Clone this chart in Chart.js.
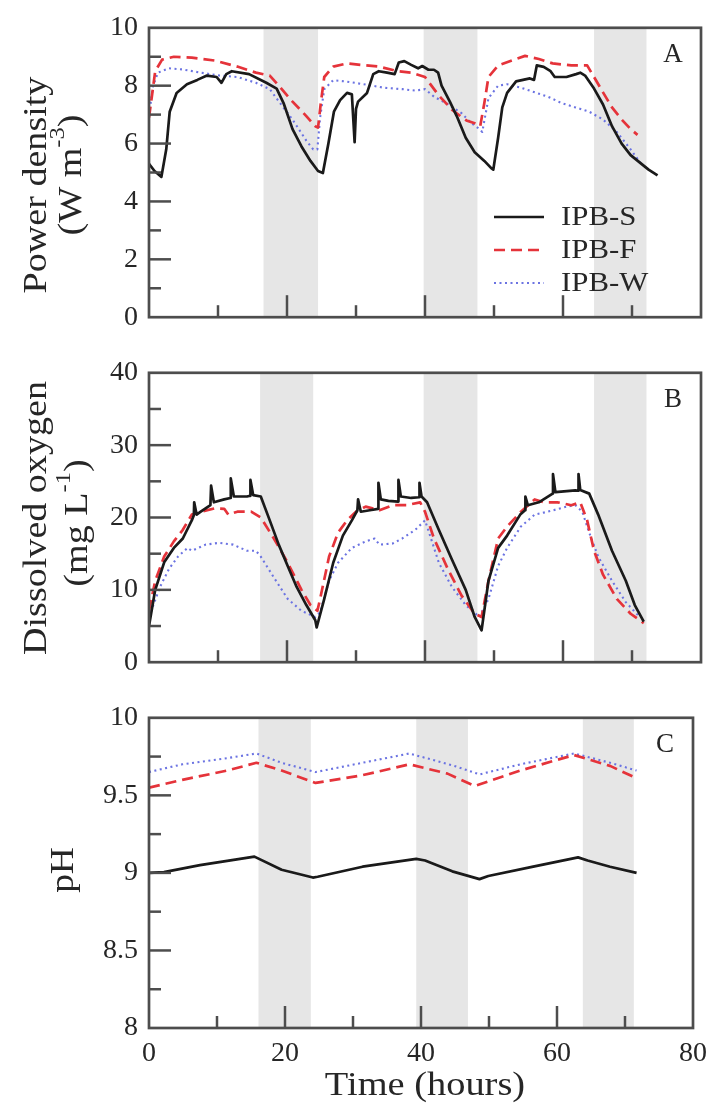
<!DOCTYPE html>
<html><head><meta charset="utf-8">
<script src="https://cdn.jsdelivr.net/npm/chart.js@4.4.1/dist/chart.umd.min.js"></script>
<style>
html,body{margin:0;padding:0;background:#fff;}
#wrap{position:relative;width:716px;height:1105px;}
canvas{position:absolute;left:0;}
</style></head><body>
<div id="wrap">
<canvas id="cA" width="716" height="345" style="top:0px"></canvas>
<canvas id="cB" width="716" height="345" style="top:345px"></canvas>
<canvas id="cC" width="716" height="415" style="top:690px"></canvas>
</div>
<script>
// ---------- DATA (time in hours, value) ----------
const seriesNames = ['IPB-S', 'IPB-F', 'IPB-W'];

const powerS = [[0,5.3],[0.8,5.05],[1.8,4.85],[2.5,5.8],[3.0,7.1],[4.0,7.75],[5.5,8.05],[7.0,8.2],[8.4,8.35],[9.8,8.3],[10.5,8.1],[11.2,8.4],[12,8.5],[14.5,8.4],[17,8.1],[18.5,7.9],[19.5,7.4],[20.8,6.5],[22.1,5.9],[23.4,5.4],[24.5,5.05],[25.2,4.98],[26,6.0],[26.8,7.1],[27.7,7.5],[28.7,7.75],[29.4,7.7],[29.8,6.05],[30.0,7.2],[30.3,7.45],[31.6,7.75],[32.5,8.4],[33.3,8.5],[34.5,8.45],[35.6,8.4],[36.2,8.8],[37,8.85],[38,8.72],[39,8.6],[39.6,8.68],[40.5,8.55],[41.3,8.55],[41.9,8.45],[42.4,8.0],[43.6,7.45],[44.6,6.95],[45.9,6.2],[47.2,5.7],[48.6,5.4],[49.6,5.15],[49.9,5.1],[50.6,6.2],[51.2,7.25],[51.9,7.75],[53.2,8.15],[55.2,8.25],[55.8,8.2],[56.2,8.7],[57.2,8.65],[58.2,8.5],[58.8,8.3],[60.5,8.3],[61.9,8.4],[62.5,8.45],[63.2,8.35],[64.5,7.9],[65.8,7.35],[67.1,6.6],[68.5,6.0],[69.8,5.6],[71.1,5.35],[72.4,5.1],[73.7,4.9]];
const powerF = [[0,6.9],[0.4,7.6],[0.9,8.5],[1.9,8.9],[3.6,9.0],[6.2,8.97],[9.5,8.87],[12.8,8.66],[15.5,8.45],[17.5,8.35],[18.8,8.0],[20.8,7.45],[22.8,6.95],[24.1,6.6],[24.5,6.55],[24.9,7.4],[25.4,8.3],[26.7,8.66],[28.7,8.77],[30.7,8.72],[33.3,8.66],[36,8.5],[38,8.45],[40,8.3],[42,7.66],[44,7.15],[46,6.8],[47.2,6.7],[48,6.6],[48.6,7.4],[49.2,8.3],[50.6,8.7],[52.6,8.87],[54.5,9.03],[56.5,8.92],[58.5,8.77],[61.2,8.7],[63.5,8.7],[64.5,8.3],[65.8,7.77],[67.1,7.25],[68.5,6.83],[69.8,6.5],[70.8,6.3]];
const powerW = [[0,7.0],[0.6,8.0],[1.3,8.45],[2.9,8.6],[4.9,8.56],[7.5,8.45],[10.2,8.35],[12.8,8.3],[15.5,8.1],[17.5,7.88],[18.8,7.46],[20.8,6.83],[22.8,6.1],[23.8,5.8],[24.4,5.8],[24.8,6.9],[25.4,7.88],[26.7,8.19],[28.7,8.14],[31.4,8.04],[34,7.93],[36.7,7.88],[38.6,7.83],[40,7.88],[41.3,7.62],[43.3,7.36],[45.3,7.05],[46.6,6.73],[47.9,6.5],[48.3,6.4],[49.2,7.57],[50.6,8.0],[51.9,8.05],[53.9,7.93],[55.9,7.77],[57.8,7.62],[59.8,7.4],[61.8,7.25],[63.8,7.1],[65.8,6.83],[67.8,6.4],[69.8,5.8],[71.4,5.27]];

const oxyS = [[0,5],[0.9,10],[2.2,13.8],[3.6,15.8],[4.9,17.1],[6.2,19.6],[6.5,20.3],[6.55,22.1],[6.9,20.4],[7.5,20.8],[8.9,21.7],[9.0,24.4],[9.4,22.1],[10.9,22.5],[11.8,22.7],[11.85,25.4],[12.3,22.9],[14.2,22.9],[14.65,23],[14.7,25.2],[15.1,23.1],[16.2,22.9],[17.5,19.6],[18.8,16.25],[20.1,13.3],[21.4,10.4],[22.8,7.9],[24.1,5.8],[24.3,4.8],[25.4,8.75],[26.7,13.75],[28.1,17.5],[29.4,19.6],[30.2,21.0],[30.3,22.5],[30.7,20.8],[32,21.0],[33.2,21.2],[33.25,24.8],[33.6,22.5],[34.7,22.3],[36.1,22.2],[36.15,25.2],[36.5,22.9],[38,22.7],[39.15,22.8],[39.2,24.8],[39.5,22.9],[40.3,22.1],[42,18.3],[43.9,14.2],[45.9,10],[47.2,6.25],[48.2,4.4],[49.2,11.25],[50.6,15.8],[51.9,17.5],[53.8,20.4],[54.5,21.0],[54.55,22.9],[54.9,21.7],[56.5,22.1],[58.5,23.3],[58.55,26],[58.9,23.5],[61.8,23.75],[62.2,23.7],[62.25,26],[62.5,23.8],[63.8,23.3],[65.1,20.4],[67.1,15.4],[69.1,11.25],[70.4,7.9],[71.7,5.6]];
const oxyF = [[0,7.1],[0.9,11.25],[2.2,14.6],[3.6,16.7],[4.9,18.3],[6.2,20.4],[7.5,20.8],[9.5,21.25],[10.9,21.2],[11.5,20.4],[12.8,20.8],[14.8,20.8],[16.2,20],[18.1,17.1],[20.1,13.75],[22.1,10],[23.4,7.9],[24.4,7.1],[24.8,8.75],[26.1,14.6],[27.4,17.9],[28.7,19.6],[30,20.8],[31.4,21.5],[33.4,21],[35.3,21.7],[37.3,21.7],[39.3,22.1],[40,20.8],[41.3,17.1],[43.3,12.9],[45.3,9.2],[47.2,6.7],[48.2,6.25],[49.2,11.25],[50.6,17.1],[51.9,18.75],[53.9,20.8],[55.9,22.5],[57.2,22.1],[59.2,22.1],[61.2,21.7],[62.5,22.1],[63.5,19.6],[64.5,15.4],[65.8,12.1],[67.8,8.75],[69.8,6.7],[71.7,5.4]];
const oxyW = [[0,6.25],[1.6,10.4],[2.9,12.9],[4.2,14.6],[5.6,15.8],[6.2,15.4],[8.2,16.25],[10.2,16.5],[12.2,16.25],[14.2,15.4],[15.5,15.4],[16.2,14.6],[18.1,11.7],[20.1,8.75],[22.1,7.1],[24.1,6.25],[24.8,6.9],[26.1,11.25],[27.4,13.75],[29.4,15.8],[31.4,16.7],[32.7,17.1],[33.4,16.25],[35.3,16.4],[36.7,17.1],[38.6,18.3],[40,19.6],[40.6,17.9],[42,13.75],[43.9,10.4],[45.9,7.9],[47.9,6.25],[49.2,8.75],[50.6,13.3],[51.9,15.8],[53.9,18.75],[55.9,20.4],[57.8,20.8],[60.5,21.5],[61.8,21.7],[62.8,20.8],[63.8,17.9],[65.1,14.6],[67.1,11.25],[69.1,8.3],[71.1,6.25]];

const phS = [[0,9.0],[2.2,9.005],[7.5,9.05],[14.8,9.1],[15.5,9.105],[19.5,9.02],[24.1,8.97],[24.8,8.975],[31.4,9.04],[39.3,9.09],[40.6,9.08],[44.6,9.01],[48.6,8.96],[49.9,8.98],[56.5,9.04],[63.1,9.1],[64.5,9.08],[67.8,9.04],[71.7,9.0]];
const phF = [[0,9.55],[4.9,9.6],[11.5,9.66],[15.8,9.71],[19.5,9.66],[24.5,9.58],[31.4,9.63],[38.3,9.70],[43.9,9.64],[47.9,9.56],[54.6,9.66],[62.5,9.76],[67.8,9.69],[71.7,9.61]];
const phW = [[0,9.65],[4.9,9.7],[11.5,9.74],[15.8,9.77],[19.5,9.71],[24.5,9.65],[31.4,9.71],[38.3,9.77],[44.9,9.69],[48.6,9.635],[54.6,9.7],[62.5,9.77],[67.8,9.71],[71.7,9.66]];

// dark periods (hours)
const darkA = [[16.6,24.5],[39.8,47.6],[64.5,72.1]];
const darkB = [[16.1,23.8],[39.8,47.6],[64.5,72.1]];
const darkC = [[16.1,23.8],[39.3,46.9],[63.8,71.3]];

// tick labels
const xTicks = [0, 20, 40, 60, 80];
const xMinor = [10, 30, 50, 70];
const yTicksA = [0, 2, 4, 6, 8, 10];
const yMinorA = [1, 3, 5, 7, 9];
const yTicksB = [0, 10, 20, 30, 40];
const yMinorB = [5, 15, 25, 35];
const yTicksC = [8, 8.5, 9, 9.5, 10];
const yMinorC = [8.25, 8.75, 9.25, 9.75];

// ---------- STYLE ----------
const SERIF = "'Liberation Serif','Times New Roman',serif";
const TXT = '#262626';
const COL_S = '#1a1a1a', COL_F = '#e5333a', COL_W = '#6b73e2';
const FRAME = '#4d4d4d';

function pts(a){ return a.map(p => ({x:p[0], y:p[1]})); }

function ds(label, arr, kind){
  const base = {label, data: pts(arr), pointRadius:0, tension:0, fill:false, borderJoinStyle:'round'};
  if(kind==='S') return Object.assign(base,{borderColor:COL_S,borderWidth:2.7});
  if(kind==='F') return Object.assign(base,{borderColor:COL_F,borderWidth:2.7,borderDash:[11,6]});
  return Object.assign(base,{borderColor:COL_W,borderWidth:2.1,borderDash:[2,3.5]});
}

// text drawn with a slight stretch along its length (sx)
function drawRich(ctx, cx, cy, parts, rotate, sx){
  ctx.save();
  ctx.translate(cx, cy);
  if(rotate) ctx.rotate(-Math.PI/2);
  ctx.scale(sx||1, 1);
  ctx.textBaseline='alphabetic';
  ctx.textAlign='left';
  let total=0;
  parts.forEach(p=>{ ctx.font = p.size+'px '+SERIF; p.w = ctx.measureText(p.text).width; total+=p.w; });
  let x=-total/2;
  const baseSize = parts[0].size;
  parts.forEach(p=>{
    ctx.font = p.size+'px '+SERIF;
    ctx.fillStyle=TXT;
    ctx.fillText(p.text, x, baseSize*0.34 - (p.raise||0));
    x+=p.w;
  });
  ctx.restore();
}

function makePanel(id, cfg){
  const deco = {
    id:'deco'+id,
    beforeDatasetsDraw(chart){
      const {ctx, chartArea:a, scales:{x}} = chart;
      ctx.save();
      ctx.fillStyle='#e6e6e6';
      cfg.dark.forEach(b=>{
        const x0=x.getPixelForValue(b[0]), x1=x.getPixelForValue(b[1]);
        ctx.fillRect(x0, a.top, x1-x0, a.bottom-a.top);
      });
      ctx.restore();
    },
    afterDatasetsDraw(chart){
      const {ctx, chartArea:a, scales:{x,y}} = chart;
      ctx.save();
      ctx.strokeStyle=FRAME; ctx.lineWidth=2.5; ctx.lineCap='butt';
      xTicks.forEach(v=>{ if(v<=0||v>=80) return; const px=x.getPixelForValue(v);
        ctx.beginPath(); ctx.moveTo(px,a.bottom); ctx.lineTo(px,a.bottom-22); ctx.stroke(); });
      xMinor.forEach(v=>{ const px=x.getPixelForValue(v);
        ctx.beginPath(); ctx.moveTo(px,a.bottom); ctx.lineTo(px,a.bottom-12); ctx.stroke(); });
      cfg.yTicks.forEach((v,i)=>{ if(i===0||i===cfg.yTicks.length-1) return; const py=y.getPixelForValue(v);
        ctx.beginPath(); ctx.moveTo(a.left,py); ctx.lineTo(a.left+22,py); ctx.stroke(); });
      cfg.yMinor.forEach(v=>{ const py=y.getPixelForValue(v);
        ctx.beginPath(); ctx.moveTo(a.left,py); ctx.lineTo(a.left+12,py); ctx.stroke(); });
      ctx.lineWidth=2.7;
      ctx.strokeRect(a.left, a.top, a.right-a.left, a.bottom-a.top);
      ctx.fillStyle=TXT;
      ctx.font='27px '+SERIF; ctx.textAlign='center'; ctx.textBaseline='middle';
      ctx.fillText(cfg.letter, a.right-28, a.top+27);
      ctx.restore();
    },
    afterDraw(chart){
      const ctx = chart.ctx;
      cfg.titles.forEach(t=>drawRich(ctx, t.x, t.y, t.parts, t.rotate, t.sx));
      if(cfg.legend){
        const items = chart.data.datasets;
        ctx.save();
        cfg.legend.forEach((L,i)=>{
          const d = items[i];
          ctx.strokeStyle=d.borderColor; ctx.lineWidth=d.borderWidth;
          ctx.setLineDash(d.borderDash||[]);
          ctx.beginPath(); ctx.moveTo(L.x0,L.y); ctx.lineTo(L.x1,L.y); ctx.stroke();
          ctx.setLineDash([]);
          ctx.save();
          ctx.translate(L.tx, L.y+1); ctx.scale(1.1,1);
          ctx.fillStyle=TXT; ctx.font='28px '+SERIF; ctx.textAlign='left'; ctx.textBaseline='middle';
          ctx.fillText(d.label, 0, 0);
          ctx.restore();
        });
        ctx.restore();
      }
    }
  };
  return new Chart(document.getElementById(id), {
    type:'line',
    data:{datasets:cfg.datasets},
    options:{
      responsive:false, animation:false, devicePixelRatio:1,
      layout:{padding:cfg.padding},
      plugins:{legend:{display:false}, tooltip:{enabled:false}},
      scales:{
        x:{type:'linear', min:0, max:80, display:cfg.showX,
           grid:{display:false, drawTicks:false}, border:{display:false},
           ticks:{font:{family:SERIF,size:28}, color:TXT, padding:9, maxRotation:0, autoSkip:false, callback:v=>String(v)},
           afterBuildTicks:s=>{ s.ticks = xTicks.map(v=>({value:v})); },
           afterFit:s=>{ if(cfg.showX) s.height = 42; }},
        y:{type:'linear', min:cfg.yMin, max:cfg.yMax,
           grid:{display:false, drawTicks:false}, border:{display:false},
           ticks:{font:{family:SERIF,size:28}, color:TXT, padding:11, autoSkip:false, callback:v=>String(v)},
           afterBuildTicks:s=>{ s.ticks = cfg.yTicks.map(v=>({value:v})); },
           afterFit:s=>{ s.width = 149; }}
      }
    },
    plugins:[deco]
  });
}

makePanel('cA', {
  datasets:[ds(seriesNames[0],powerS,'S'), ds(seriesNames[1],powerF,'F'), ds(seriesNames[2],powerW,'W')],
  padding:{top:19,right:15,bottom:7,left:0}, showX:false, yMin:0, yMax:10,
  yTicks:yTicksA, yMinor:yMinorA, dark:darkA, letter:'A',
  titles:[
    {x:34,y:185,rotate:true,sx:1.12,parts:[{text:'Power density',size:34}]},
    {x:69,y:175,rotate:true,sx:1.12,parts:[{text:'(W m',size:34},{text:'-3',size:22,raise:17},{text:')',size:34}]}
  ],
  legend:[{x0:494,x1:544,y:217,tx:561},{x0:494,x1:544,y:250,tx:561},{x0:494,x1:544,y:283,tx:561}]
});

makePanel('cB', {
  datasets:[ds(seriesNames[0],oxyS,'S'), ds(seriesNames[1],oxyF,'F'), ds(seriesNames[2],oxyW,'W')],
  padding:{top:17,right:15,bottom:5,left:0}, showX:false, yMin:0, yMax:40,
  yTicks:yTicksB, yMinor:yMinorB, dark:darkB, letter:'B',
  titles:[
    {x:34,y:173,rotate:true,sx:1.12,parts:[{text:'Dissolved oxygen',size:34}]},
    {x:75,y:178,rotate:true,sx:1.12,parts:[{text:'(mg L',size:34},{text:'-1',size:22,raise:17},{text:')',size:34}]}
  ]
});

makePanel('cC', {
  datasets:[ds(seriesNames[0],phS,'S'), ds(seriesNames[1],phF,'F'), ds(seriesNames[2],phW,'W')],
  padding:{top:18,right:15,bottom:35,left:0}, showX:true, yMin:8, yMax:10,
  yTicks:yTicksC, yMinor:yMinorC, dark:darkC, letter:'C',
  titles:[
    {x:61,y:180,rotate:true,sx:1.1,parts:[{text:'pH',size:34}]},
    {x:425,y:393,rotate:false,sx:1.13,parts:[{text:'Time (hours)',size:34}]}
  ]
});
</script>
</body></html>
